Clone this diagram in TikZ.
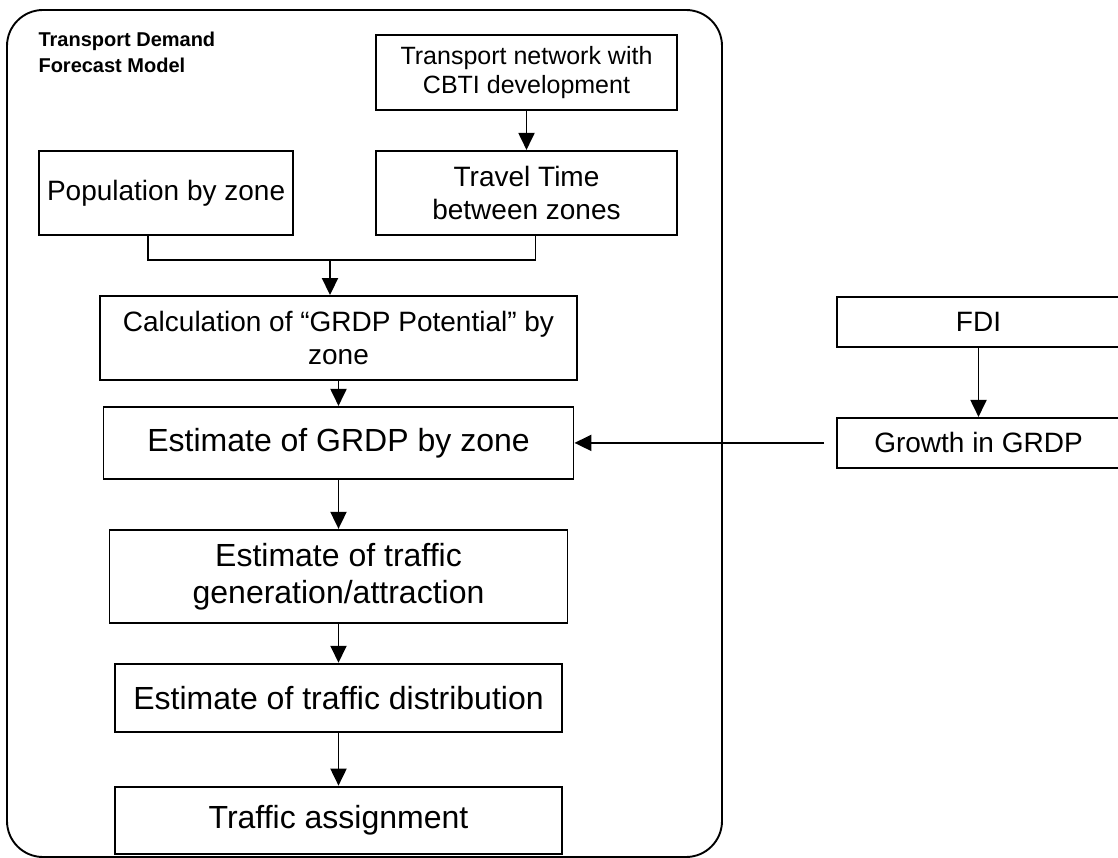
\documentclass[tikz,border=0pt]{standalone}
\usepackage{fontspec}
\setmainfont{Liberation Sans}
\usetikzlibrary{positioning,arrows.meta}
\tikzset{pbox/.style={draw,line width=1.9pt,inner sep=0pt,align=center},
	 flow/.style={line width=1.9pt,-{Triangle[length=17pt,width=16pt]}},
	 lnk/.style={line width=1.9pt},
	 node distance = 39pt
	 }
\newcommand{\fsmall}{\fontsize{25}{29}\selectfont}
\newcommand{\fmid}{\fontsize{28}{33}\selectfont}
\newcommand{\fbig}{\fontsize{32}{37}\selectfont}

\begin{document}
\begin{tikzpicture}[x=1pt,y=-1pt]
	\useasboundingbox (0,0) rectangle (1118,858);
	% model frame
	\draw[lnk,rounded corners=36pt] (7,10) rectangle (722,857);
	\node (ttl) [anchor=north west,align=left,font=\bfseries\fontsize{20}{26}\selectfont] at (35,28) {Transport Demand\\Forecast Model};
	% inputs
	\node[pbox,minimum width=301pt,minimum height=75pt,font=\fsmall] (net) at (526.5,72.5) {Transport network with\\CBTI development};
	\node[pbox,minimum width=301pt,minimum height=84pt,font=\fmid] (trav) [below=of net] {Travel Time\\between zones};
	\node[pbox,minimum width=254pt,minimum height=84pt,font=\fmid] (pop) [left=81pt of trav] {Population by zone};
	% main chain
	\node[pbox,minimum width=477pt,minimum height=84pt,font=\fmid] (calc) at (338.5,338) {Calculation of “GRDP Potential” by\\zone};
	\node[pbox,minimum width=470pt,minimum height=72pt,font=\fbig] (grdp) [below=25pt of calc] {Estimate of GRDP by zone};
	\node[pbox,minimum width=458pt,minimum height=93pt,font=\fbig] (gen) [below=49pt of grdp] {Estimate of traffic\\generation/attraction};
	\node[pbox,minimum width=447pt,minimum height=68pt,font=\fbig] (dist) [below=of gen] {Estimate of traffic distribution};
	\node[pbox,minimum width=447pt,minimum height=67pt,font=\fbig] (asg) [below=53pt of dist] {Traffic assignment};
	% outside the model
	\node[pbox,minimum width=283pt,minimum height=50pt,font=\fmid] (fdi) at (978.5,322) {FDI};
	\node[pbox,minimum width=283pt,minimum height=50pt,font=\fmid] (grow) [below=69pt of fdi] {Growth in GRDP};
	\coordinate (mrg) at (330,260);
	\draw[flow] (net) to (trav);
	\draw[lnk] ([xshift=-18pt]pop.south) |- (mrg) -| ([xshift=9pt]trav.south);
	\draw[flow] (mrg) to (mrg |- calc.north);
	\draw[flow] (calc) to (grdp);
	\draw[flow] (grdp) to (gen);
	\draw[flow] (gen) to (dist);
	\draw[flow] (dist) to (asg);
	\draw[flow] (fdi) to (grow);
	\draw[flow,shorten <=12pt] (grow) to (grdp);
\end{tikzpicture}
\end{document}
